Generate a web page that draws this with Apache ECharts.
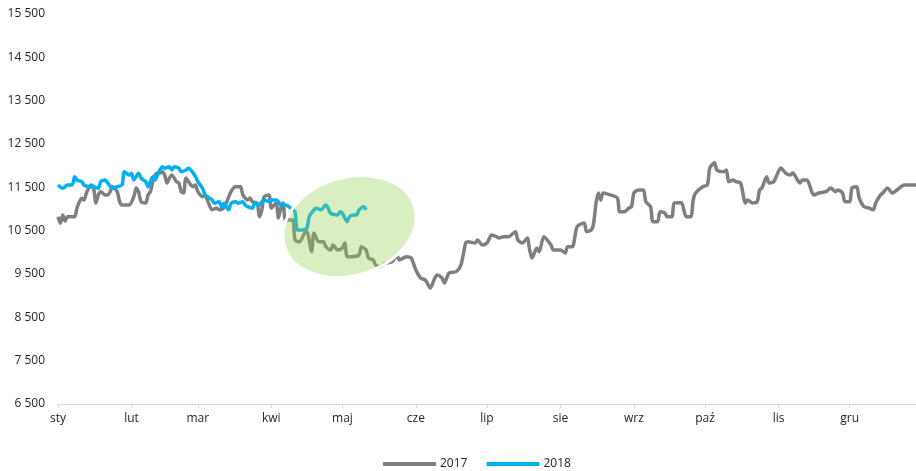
<!DOCTYPE html>
<html>
<head>
<meta charset="utf-8">
<script src="https://cdn.jsdelivr.net/npm/echarts@6/dist/echarts.min.js"></script>
<style>
  html, body { margin: 0; padding: 0; background: #fff; }
  #chart { width: 916px; height: 471px; }
</style>
</head>
<body>
<div id="chart"></div>
<script>
// Month names and the day-of-year on which each month starts
const monthNames = ['sty', 'lut', 'mar', 'kwi', 'maj', 'cze', 'lip', 'sie', 'wrz', 'paź', 'lis', 'gru'];
const monthStartDays = [0, 31, 59, 90, 120, 151, 181, 212, 243, 273, 304, 334];
const dayCount = 363;

// Y axis labels (every 1000, starting at 6 500)
const yTickValues = [6500, 7500, 8500, 9500, 10500, 11500, 12500, 13500, 14500, 15500];
const yTickLabels = ['6 500', '7 500', '8 500', '9 500', '10 500', '11 500', '12 500', '13 500', '14 500', '15 500'];

// 2017: [day of year, value]
const series2017 = [
  [0, 10820], [1, 10670], [2, 10860], [3, 10720], [4, 10820], [7, 10820], [8, 11020],
  [10, 11250], [11, 11210], [12, 11370], [13, 11485], [14, 11515], [15, 11485], [16, 11140],
  [17, 11325], [18, 11400], [20, 11325], [21, 11325], [22, 11400], [23, 11515], [25, 11400],
  [26, 11170], [27, 11090], [30, 11090], [32, 11285], [33, 11485], [34, 11400], [35, 11170],
  [37, 11140], [38, 11325], [39, 11400], [40, 11630], [41, 11785], [42, 11830], [43, 11830],
  [44, 11860], [45, 11785], [46, 11600], [47, 11715], [48, 11785], [50, 11630], [51, 11600],
  [52, 11400], [53, 11370], [54, 11715], [56, 11555], [57, 11515], [58, 11555], [59, 11400],
  [61, 11285], [62, 11325], [63, 11210], [65, 10980], [67, 11025], [68, 10980], [70, 11025],
  [73, 11400], [75, 11515], [77, 11515], [78, 11325], [80, 11210], [81, 11255], [82, 11170],
  [84, 11140], [85, 10823], [86, 10980], [87, 11285], [89, 11325], [90, 11025], [92, 11140],
  [93, 10793], [94, 11025], [95, 11140], [96, 10747], [99, 10747], [100, 10285], [102, 10246],
  [104, 10447], [105, 10477], [107, 10015], [108, 10447], [110, 10246], [112, 10246], [113, 10130],
  [115, 10054], [116, 10170], [118, 10054], [120, 10100], [121, 10216], [122, 9900], [124, 9900],
  [127, 9939], [128, 10130], [130, 10054], [131, 9870], [133, 9824], [134, 9708], [136, 9669],
  [138, 9740], [141, 9784], [143, 9939], [144, 9824], [147, 9900], [149, 9870], [151, 9593],
  [153, 9408], [155, 9362], [157, 9177], [159, 9408], [160, 9477], [162, 9408], [163, 9293],
  [165, 9523], [168, 9554], [170, 9708], [172, 10216], [173, 10246], [176, 10216], [177, 10285],
  [179, 10170], [181, 10216], [183, 10400], [185, 10360], [186, 10331], [188, 10360], [190, 10360],
  [193, 10477], [194, 10285], [196, 10216], [198, 10331], [199, 10054], [200, 9870], [202, 10100],
  [203, 10015], [205, 10360], [208, 10170], [209, 10054], [212, 10054], [214, 9985], [215, 10130],
  [217, 10130], [219, 10592], [222, 10677], [223, 10477], [225, 10516], [226, 10677], [227, 11139],
  [228, 11370], [229, 11210], [230, 11370], [233, 11325], [236, 11255], [237, 10938], [239, 10938],
  [241, 11025], [242, 11054], [243, 11370], [245, 11439], [247, 11439], [248, 11170], [250, 11054],
  [251, 10708], [253, 10708], [254, 10938], [256, 10908], [257, 10823], [259, 10823], [260, 11140],
  [263, 11146], [265, 10823], [267, 10823], [268, 11210], [269, 11370], [272, 11515], [274, 11555],
  [275, 11947], [277, 12069], [278, 11901], [281, 11860], [282, 11901], [283, 11630], [285, 11670],
  [286, 11630], [288, 11600], [290, 11140], [291, 11210], [293, 11140], [295, 11170], [296, 11439],
  [297, 11485], [299, 11746], [300, 11600], [302, 11630], [305, 11947], [307, 11830], [309, 11785],
  [310, 11830], [312, 11670], [313, 11600], [314, 11670], [316, 11670], [318, 11400], [319, 11325],
  [321, 11370], [324, 11400], [326, 11485], [328, 11400], [329, 11439], [331, 11370], [332, 11170],
  [334, 11170], [335, 11485], [337, 11515], [338, 11255], [340, 11054], [342, 11025], [344, 10980],
  [345, 11140], [347, 11325], [348, 11370], [350, 11485], [352, 11370], [354, 11439], [357, 11555],
  [359, 11555], [362, 11555]
];

// 2018: [day of year, value]
const series2018 = [
  [0, 11555], [2, 11478], [4, 11555], [6, 11555], [7, 11746], [8, 11670], [10, 11630],
  [11, 11555], [13, 11515], [14, 11555], [15, 11515], [17, 11478], [18, 11630], [20, 11670],
  [21, 11600], [23, 11478], [25, 11515], [27, 11555], [28, 11860], [30, 11785], [31, 11825],
  [32, 11670], [34, 11825], [35, 11710], [37, 11630], [38, 11515], [40, 11746], [41, 11670],
  [42, 11785], [44, 11977], [45, 11940], [47, 11977], [48, 11901], [49, 11977], [51, 11940],
  [52, 11860], [54, 11901], [55, 11940], [56, 11901], [58, 11746], [59, 11630], [61, 11478],
  [62, 11325], [63, 11285], [65, 11210], [66, 11132], [68, 11170], [69, 11054], [70, 11132],
  [72, 10980], [73, 11132], [75, 11170], [76, 11132], [78, 11170], [79, 11090], [80, 11054],
  [82, 11017], [83, 11132], [85, 11090], [86, 11170], [87, 11210], [89, 11170], [90, 11210],
  [92, 11210], [93, 11170], [94, 11090], [96, 11090], [99, 10980], [100, 10938], [101, 10516],
  [103, 10516], [105, 10555], [106, 10823], [108, 10980], [109, 11017], [111, 10980], [113, 11090],
  [114, 11017], [115, 10901], [118, 10862], [119, 10938], [120, 10901], [122, 10708], [123, 10823],
  [125, 10862], [126, 10862], [127, 10980], [129, 11054], [130, 10980]
];

const dayCategories = [];
for (let i = 0; i < dayCount; i++) dayCategories.push(String(i));
const isMonthStart = (idx) => monthStartDays.indexOf(idx) !== -1;

const chart = echarts.init(document.getElementById('chart'), null, { renderer: 'canvas' });
const font = "'Open Sans', 'DejaVu Sans', sans-serif";

chart.setOption({
  animation: false,
  backgroundColor: '#ffffff',
  grid: { left: 58, right: 0, top: 14, bottom: 67, containLabel: false },
  legend: {
    left: 378,
    top: 453,
    icon: 'rect',
    itemWidth: 53,
    itemHeight: 4,
    itemGap: 19,
    textStyle: { fontFamily: font, fontSize: 12, color: '#262626', padding: [0, 0, 0, -1] },
    data: ['2017', '2018']
  },
  xAxis: {
    type: 'category',
    boundaryGap: false,
    data: dayCategories,
    axisLine: { show: true, lineStyle: { color: '#d9d9d9', width: 1 } },
    axisTick: {
      show: true,
      interval: (idx) => isMonthStart(idx),
      length: 4,
      lineStyle: { color: '#d9d9d9' }
    },
    axisLabel: {
      interval: (idx) => isMonthStart(idx),
      formatter: (val, idx) => monthNames[monthStartDays.indexOf(idx)] || '',
      margin: 9,
      fontFamily: font,
      fontSize: 12,
      color: '#262626'
    },
    splitLine: { show: false }
  },
  yAxis: {
    type: 'value',
    min: 6500,
    max: 15500,
    interval: 500,
    axisLine: { show: false },
    axisTick: { show: false },
    splitLine: { show: false },
    axisLabel: {
      margin: 13,
      fontFamily: font,
      fontSize: 12,
      color: '#262626',
      formatter: (v) => {
        const k = yTickValues.indexOf(v);
        return k === -1 ? '' : yTickLabels[k];
      }
    }
  },
  series: [
    {
      name: '2017',
      type: 'line',
      data: series2017,
      symbol: 'none',
      smooth: 0.25,
      lineStyle: { color: '#7f7f7f', width: 3.5 },
      itemStyle: { color: '#7f7f7f' },
      z: 2
    },
    {
      name: '2018',
      type: 'line',
      data: series2018,
      symbol: 'none',
      smooth: 0.25,
      lineStyle: { color: '#00b0f0', width: 3.5 },
      itemStyle: { color: '#00b0f0' },
      z: 3
    }
  ],
  graphic: [
    {
      type: 'ellipse',
      x: 349.5,
      y: 226.5,
      rotation: 0.3,
      shape: { cx: 0, cy: 0, rx: 68, ry: 49 },
      style: { fill: 'rgba(146, 208, 80, 0.35)', stroke: '#ffffff', lineWidth: 3 },
      z: 100
    }
  ]
});
</script>
</body>
</html>
